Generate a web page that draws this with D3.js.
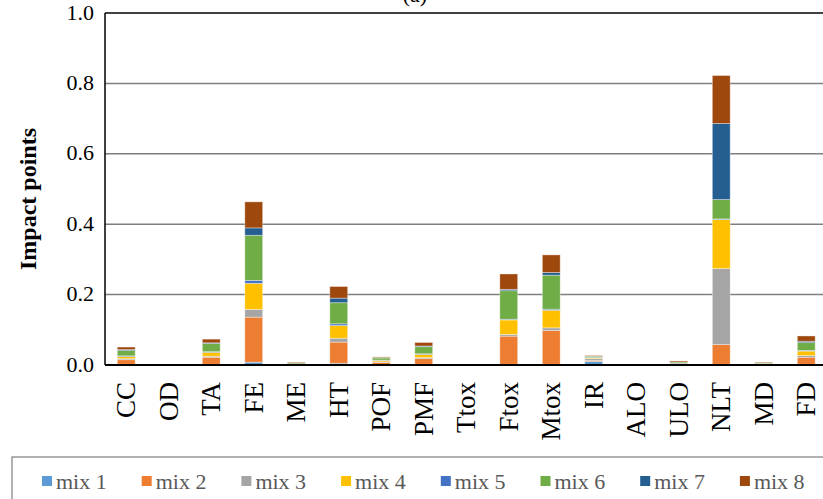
<!DOCTYPE html>
<html>
<head>
<meta charset="utf-8">
<script src="https://cdn.jsdelivr.net/npm/d3@7"></script>
<style>
  html, body { margin: 0; padding: 0; background: #fff; overflow: hidden; }
  svg { display: block; font-family: "Liberation Serif", "Times New Roman", serif; }
</style>
</head>
<body>
<div id="chart"></div>
<script>
// Impact categories (x axis)
const categories = ['CC', 'OD', 'TA', 'FE', 'ME', 'HT', 'POF', 'PMF', 'Ttox', 'Ftox', 'Mtox', 'IR', 'ALO', 'ULO', 'NLT', 'MD', 'FD'];

// Stacked series, one value per category
const mix1 = [0.002, 0, 0.002, 0.008, 0, 0.005, 0.001, 0.002, 0, 0.002, 0.002, 0.010, 0, 0.0005, 0.002, 0, 0.002];
const mix2 = [0.013, 0.0005, 0.020, 0.128, 0.002, 0.060, 0.006, 0.016, 0.0005, 0.080, 0.096, 0.003, 0.0005, 0.002, 0.056, 0.002, 0.020];
const mix3 = [0.003, 0, 0.003, 0.022, 0.001, 0.011, 0.002, 0.003, 0, 0.005, 0.0076, 0.005, 0, 0.003, 0.216, 0.002, 0.005];
const mix4 = [0.006, 0, 0.011, 0.074, 0, 0.036, 0.004, 0.009, 0, 0.041, 0.050, 0.002, 0, 0, 0.139, 0, 0.0125];
const mix5 = [0.002, 0, 0.002, 0.0085, 0, 0.005, 0.001, 0.002, 0, 0.002, 0.003, 0.001, 0, 0, 0.002, 0, 0.002];
const mix6 = [0.015, 0.0003, 0.023, 0.128, 0.003, 0.060, 0.006, 0.020, 0.0005, 0.081, 0.0966, 0.003, 0.0005, 0.003, 0.055, 0.002, 0.022];
const mix7 = [0.003, 0, 0.002, 0.021, 0, 0.013, 0.001, 0.002, 0, 0.004, 0.0076, 0.001, 0, 0, 0.216, 0, 0.004];
const mix8 = [0.007, 0.0012, 0.0105, 0.074, 0.002, 0.033, 0.002, 0.010, 0.001, 0.0436, 0.050, 0.002, 0.001, 0.003, 0.1364, 0.002, 0.015];

const seriesNames = ['mix 1', 'mix 2', 'mix 3', 'mix 4', 'mix 5', 'mix 6', 'mix 7', 'mix 8'];
const seriesValues = [mix1, mix2, mix3, mix4, mix5, mix6, mix7, mix8];
const seriesColors = ['#5B9BD5', '#ED7D31', '#A5A5A5', '#FFC000', '#4472C4', '#70AD47', '#255E91', '#9E480E'];
const yTicks = [0, 0.2, 0.4, 0.6, 0.8, 1.0];

const width = 823;
const height = 499;
const left = 105;
const step = 42.5;

const svg = d3.select('#chart')
  .append('svg')
  .attr('width', width)
  .attr('height', height);

// Scales
const x = d3.scaleBand()
  .domain(categories)
  .range([left, left + step * categories.length])
  .paddingInner(0.58)
  .paddingOuter(0.29);

const y = d3.scaleLinear()
  .domain([0, 1])
  .range([365, 13]);

// Build table for stacking
const table = categories.map((c, i) => {
  const row = { cat: c };
  seriesNames.forEach((s, j) => { row[s] = seriesValues[j][i]; });
  return row;
});
const stacked = d3.stack().keys(seriesNames)(table);

// Gridlines
svg.append('g')
  .selectAll('line')
  .data(yTicks.filter(t => t > 0 && t < 1))
  .enter().append('line')
  .attr('x1', left)
  .attr('x2', x.range()[1])
  .attr('y1', d => y(d))
  .attr('y2', d => y(d))
  .attr('stroke', '#7f7f7f')
  .attr('stroke-width', 1.5);

// Bars
svg.append('g')
  .selectAll('g')
  .data(stacked)
  .enter().append('g')
  .attr('fill', (d, i) => seriesColors[i])
  .selectAll('rect')
  .data(d => d)
  .enter().append('rect')
  .attr('x', d => x(d.data.cat))
  .attr('width', x.bandwidth())
  .attr('y', d => y(d[1]))
  .attr('height', d => y(d[0]) - y(d[1]))
  .attr('stroke', '#fff')
  .attr('stroke-opacity', 0.45)
  .attr('stroke-width', 0.8);

// Frame: left axis, top line, bottom axis
svg.append('line')
  .attr('x1', left).attr('x2', left)
  .attr('y1', y(1)).attr('y2', y(0))
  .attr('stroke', '#000').attr('stroke-width', 1.5);
svg.append('line')
  .attr('x1', left).attr('x2', x.range()[1])
  .attr('y1', y(1)).attr('y2', y(1))
  .attr('stroke', '#000').attr('stroke-width', 1.5);
svg.append('line')
  .attr('x1', left).attr('x2', x.range()[1])
  .attr('y1', y(0)).attr('y2', y(0))
  .attr('stroke', '#000').attr('stroke-width', 1.8);

// Y tick labels
svg.append('g')
  .selectAll('text')
  .data(yTicks)
  .enter().append('text')
  .attr('x', left - 11)
  .attr('y', d => y(d))
  .attr('dy', '0.3em')
  .attr('text-anchor', 'end')
  .attr('font-size', '22px')
  .attr('fill', '#000')
  .text(d => d3.format('.1f')(d));

// X labels, rotated
svg.append('g')
  .selectAll('text')
  .data(categories)
  .enter().append('text')
  .attr('transform', d => `translate(${x(d) + x.bandwidth() / 2 + 9},382) rotate(-90)`)
  .attr('text-anchor', 'end')
  .attr('font-size', '27px')
  .attr('fill', '#000')
  .text(d => d);

// Y axis title
svg.append('text')
  .attr('transform', 'translate(36,199) rotate(-90)')
  .attr('text-anchor', 'middle')
  .attr('font-size', '24px')
  .attr('font-weight', 'bold')
  .attr('fill', '#000')
  .text('Impact points');

// Chart title, mostly above the top edge as in the source
svg.append('text')
  .attr('x', 415)
  .attr('y', 2)
  .attr('text-anchor', 'middle')
  .attr('font-size', '22px')
  .attr('fill', '#000')
  .text('(a)');

// Legend
const legend = svg.append('g');
legend.append('rect')
  .attr('x', 12)
  .attr('y', 457)
  .attr('width', 830)
  .attr('height', 60)
  .attr('fill', 'none')
  .attr('stroke', '#7f7f7f')
  .attr('stroke-width', 1.2);

const item = legend.selectAll('g.item')
  .data(seriesNames)
  .enter().append('g')
  .attr('class', 'item')
  .attr('transform', (d, i) => `translate(${42 + i * 99.7},481)`);

item.append('rect')
  .attr('x', 0)
  .attr('y', -5)
  .attr('width', 10)
  .attr('height', 10)
  .attr('fill', (d, i) => seriesColors[i]);

item.append('text')
  .attr('x', 14)
  .attr('y', 0)
  .attr('dy', '0.35em')
  .attr('font-size', '22px')
  .attr('fill', '#595959')
  .text(d => d);
</script>
</body>
</html>
